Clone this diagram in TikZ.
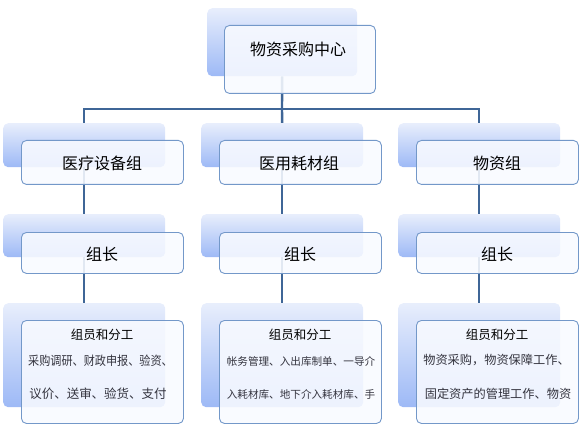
\documentclass[tikz,border=0pt]{standalone}
\usepackage{fontspec}
\newfontfamily\cjk{Noto Sans CJK SC}
\usetikzlibrary{calc,backgrounds}
\definecolor{connc}{HTML}{3F6697}
\definecolor{edgec}{HTML}{7398C9}
\definecolor{backtop}{HTML}{E8EEFC}
\definecolor{backbot}{HTML}{9DB9F6}
\definecolor{frontfill}{HTML}{F8FAFF}
\definecolor{bodytext}{HTML}{34343F}
\tikzset{
  backbox/.style={rectangle, rounded corners=5pt, top color=backtop, bottom color=backbot,
    draw=none, anchor=north west, inner sep=0pt, minimum width=162pt},
  frontbox/.style={rectangle, rounded corners=5pt, draw=edgec, line width=0.9pt,
    fill=frontfill, fill opacity=0.88, anchor=north west, inner sep=0pt, minimum width=162pt},
  connline/.style={draw=connc, line width=2.4pt},
  bigtext/.style={font=\cjk\fontsize{16}{16}\selectfont, text=black, inner sep=0pt},
  headtext/.style={font=\cjk\fontsize{12.5}{12.5}\selectfont, text=black, inner sep=0pt},
  bodyA/.style={font=\cjk\fontsize{12.5}{12.5}\selectfont, text=bodytext, inner sep=0pt},
  bodyB/.style={font=\cjk\fontsize{10.6}{10.6}\selectfont, text=bodytext, inner sep=0pt},
  bodyC/.style={font=\cjk\fontsize{12.2}{12.2}\selectfont, text=bodytext, inner sep=0pt},
}
\begin{document}
\begin{tikzpicture}[x=1pt,y=-1pt]
\useasboundingbox (0,0) rectangle (584,433);
\coordinate (busM) at (282,109);
% back boxes
\node[backbox, minimum width=150pt, minimum height=68pt] (tb) at (207,8) {};
\node[backbox, minimum height=44pt] (b2a) at (3,123) {};
\node[backbox, minimum height=44pt] (b2b) at (201,123) {};
\node[backbox, minimum height=44pt] (b2c) at (398,123) {};
\node[backbox, minimum height=43pt] (b3a) at (3,214) {};
\node[backbox, minimum height=43pt] (b3b) at (201,214) {};
\node[backbox, minimum height=43pt] (b3c) at (398,214) {};
\node[backbox, minimum height=104pt] (b4a) at (3,303) {};
\node[backbox, minimum height=104pt] (b4b) at (201,303) {};
\node[backbox, minimum height=104pt] (b4c) at (398,303) {};
% connectors behind the boxes
\begin{pgfonlayer}{background}
\draw[connline] (tb.south) -- (busM);
\draw[connline] (b2a.north) |- (busM) -| (b2c.north);
\draw[connline] (busM) -- (b2b.north);
\foreach \c in {a,b,c}{
  \draw[connline] (b2\c.south) -- (b3\c.north);
  \draw[connline] (b3\c.south) -- (b4\c.north);
}
\end{pgfonlayer}
% front boxes
\node[frontbox, minimum width=151pt, minimum height=68pt] (tf) at (224,25) {};
\node[frontbox, minimum height=44pt] (f2a) at (21,140) {};
\node[frontbox, minimum height=44pt] (f2b) at (219,140) {};
\node[frontbox, minimum height=44pt] (f2c) at (416,140) {};
\node[frontbox, minimum height=41pt] (f3a) at (21,232) {};
\node[frontbox, minimum height=41pt] (f3b) at (219,232) {};
\node[frontbox, minimum height=41pt] (f3c) at (416,232) {};
\node[frontbox, minimum height=103pt] (f4a) at (21,320) {};
\node[frontbox, minimum height=103pt] (f4b) at (219,320) {};
\node[frontbox, minimum height=103pt] (f4c) at (416,320) {};
% texts
\node[bigtext] (t1) at (298,49) {物资采购中心};
\node[bigtext] (t2a) at (102,163) {医疗设备组};
\node[bigtext] (t2b) at (299,163) {医用耗材组};
\node[bigtext] (t2c) at (497,163) {物资组};
\node[bigtext] (t3a) at (102,254) {组长};
\node[bigtext] (t3b) at (300,254) {组长};
\node[bigtext] (t3c) at (497,254) {组长};
\node[headtext] (h4a) at (102,335) {组员和分工};
\node[headtext] (h4b) at (300,335) {组员和分工};
\node[headtext] (h4c) at (497,335) {组员和分工};
\node[bodyA] (a1) at (100.5,361) {\scalebox{0.89}[1]{采购调研、财政申报、验资、}};
\node[bodyA] (a2) at (98,394) {议价、送审、验货、支付};
\node[bodyB] (m1) at (301,361) {帐务管理、入出库制单、一导介};
\node[bodyB] (m2) at (301,394) {入耗材库、地下介入耗材库、手};
\node[bodyC] (r1) at (496.5,360) {物资采购，物资保障工作、};
\node[bodyC] (r2) at (498,394) {固定资产的管理工作、物资};
\end{tikzpicture}
\end{document}
